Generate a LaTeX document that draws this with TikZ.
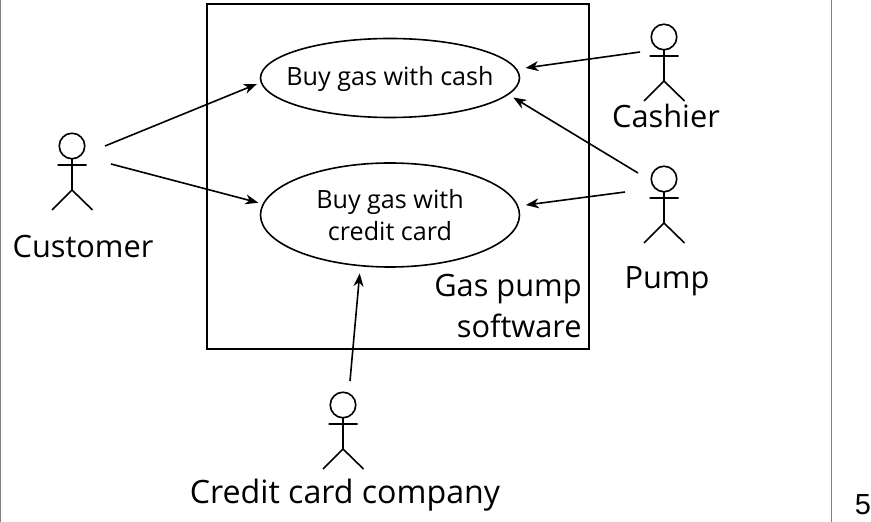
\documentclass[tikz,border=0pt]{standalone}
\usepackage{fontspec}
\setmainfont{Open Sans}
\newfontfamily\pagefont{Liberation Sans}
\usetikzlibrary{arrows.meta,shapes.geometric}
\tikzset{
	usecase/.style={draw,ellipse,line width=0.32mm,minimum width=5.18cm,inner xsep=-5mm,inner ysep=0pt,align=center,font=\fontsize{14.3}{18}\selectfont},
	bigtext/.style={inner sep=0pt,align=center,font=\fontsize{17.5}{23.8}\selectfont},
	uses/.style={-{Stealth[length=2.6mm,width=2mm,inset=0.8mm]},line width=0.32mm},
	actor/.pic={
		\draw[line width=0.32mm] (0,0) circle (2.55mm);
		\draw[line width=0.32mm] (0,12.5) -- (0,44) (-14.5,19) -- (14.5,19) (-20,64) -- (0,44) -- (20.5,64);
	}
}
\begin{document}
\begin{tikzpicture}[x=0.2mm,y=-0.2mm]
	\useasboundingbox (0,0) rectangle (871,522);
	\draw[gray,line width=0.4mm] (0.5,0) -- (0.5,522);
	\draw[gray,line width=0.2mm] (831,0) -- (831,522);
	\draw[line width=0.4mm] (206.5,4.5) rectangle (588.5,349);
	\node[usecase,minimum height=1.58cm,text height=4.4mm] (buycash) at (390,78) {Buy gas with cash};
	\node[usecase,minimum height=2.08cm] (buycredit) at (390,215) {Buy gas with\\credit card};
	\node[bigtext,align=right,anchor=east] (software) at (582,306) {Gas pump\\software};
	\pic at (72,146) {actor};
	\pic at (664,37) {actor};
	\pic at (664,179) {actor};
	\pic at (343,405) {actor};
	\node[bigtext] (customer) at (83,247) {Customer};
	\node[bigtext] (cashier) at (666,116) {Cashier};
	\node[bigtext] (pump) at (667,281) {Pump};
	\node[bigtext,font=\fontsize{18.3}{23.8}\selectfont] (creditco) at (345,495) {Credit card company};
	\node[inner sep=0pt,font=\pagefont\fontsize{16.5}{18}\selectfont] (pagenum) at (863,505) {5};
	\coordinate (customerhi) at (105,146);
	\coordinate (customerlo) at (111,164);
	\coordinate (cashierout) at (640,52);
	\coordinate (pumphi) at (638,173);
	\coordinate (pumplo) at (625,192);
	\coordinate (creditout) at (350,381);
	\draw[uses,shorten >=0.8mm] (customerhi) -- (buycash.182.5);
	\draw[uses,shorten >=0.9mm] (customerlo) -- (buycredit.175.6);
	\draw[uses,shorten >=1.7mm] (cashierout) -- (buycash.4);
	\draw[uses,shorten >=1.1mm] (pumphi) -- (buycash.352.75);
	\draw[uses,shorten >=1.5mm] (pumplo) -- (buycredit.4);
	\draw[uses,shorten >=1.4mm] (creditout) -- (buycredit.240.9);
\end{tikzpicture}
\end{document}
